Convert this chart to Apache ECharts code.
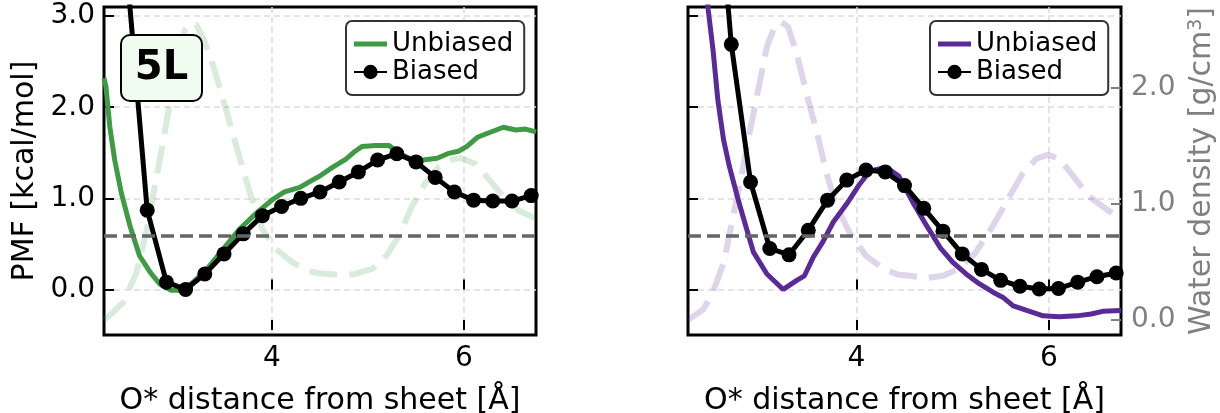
<!DOCTYPE html>
<html>
<head>
<meta charset="utf-8">
<script src="https://cdn.jsdelivr.net/npm/echarts@6/dist/echarts.min.js"></script>
<style>
html,body{margin:0;padding:0;background:#fff;}
#c{width:1220px;height:413px;}
</style>
</head>
<body>
<div id="c"></div>
<script>
// ---------------- data ----------------
const xTickValues = [4, 6];
const pmfTickValues = [0, 1, 2, 3];
const densityTickValues = [0, 1, 2];
const kT = 0.593;

const biasedX = [2.5, 2.7, 2.9, 3.1, 3.3, 3.5, 3.7, 3.9, 4.1, 4.3, 4.5, 4.7, 4.9, 5.1, 5.3, 5.5, 5.7, 5.9, 6.1, 6.3, 6.5, 6.7];
const leftBiasedY = [3.35, 0.87, 0.08, 0.0, 0.17, 0.39, 0.61, 0.81, 0.91, 1.0, 1.07, 1.18, 1.29, 1.42, 1.49, 1.40, 1.23, 1.07, 0.98, 0.97, 0.97, 1.03];
const rightBiasedY = [5.2, 2.69, 1.18, 0.45, 0.38, 0.65, 0.98, 1.20, 1.31, 1.29, 1.14, 0.89, 0.64, 0.39, 0.22, 0.10, 0.035, 0.005, 0.01, 0.08, 0.14, 0.18];

const leftUnbiasedX = [2.25, 2.27, 2.31, 2.36, 2.43, 2.52, 2.62, 2.73, 2.83, 2.95, 3.06, 3.18, 3.32, 3.49, 3.66, 3.84, 4.01, 4.13, 4.29, 4.42, 4.49, 4.63, 4.77, 4.87, 4.94, 5.08, 5.22, 5.31, 5.43, 5.57, 5.72, 5.83, 5.95, 6.03, 6.14, 6.26, 6.41, 6.54, 6.64, 6.75];
const leftUnbiasedY = [2.32, 2.23, 1.79, 1.43, 1.06, 0.70, 0.37, 0.19, 0.06, -0.01, -0.01, 0.08, 0.22, 0.44, 0.66, 0.84, 0.99, 1.07, 1.12, 1.20, 1.24, 1.34, 1.43, 1.52, 1.57, 1.58, 1.58, 1.50, 1.44, 1.42, 1.44, 1.49, 1.52, 1.57, 1.67, 1.72, 1.78, 1.75, 1.76, 1.73];

const rightUnbiasedX = [2.44, 2.46, 2.51, 2.56, 2.62, 2.68, 2.77, 2.86, 2.93, 3.07, 3.24, 3.38, 3.46, 3.55, 3.65, 3.76, 3.90, 4.03, 4.14, 4.31, 4.44, 4.59, 4.73, 4.87, 5.00, 5.14, 5.28, 5.42, 5.52, 5.63, 5.77, 5.94, 6.11, 6.29, 6.44, 6.56, 6.75];
const rightUnbiasedY = [3.3, 3.07, 2.63, 2.08, 1.64, 1.35, 0.99, 0.66, 0.41, 0.17, 0.0, 0.10, 0.15, 0.35, 0.52, 0.74, 0.94, 1.15, 1.30, 1.34, 1.245, 0.95, 0.70, 0.46, 0.30, 0.17, 0.06, -0.03, -0.085, -0.18, -0.23, -0.29, -0.30, -0.29, -0.27, -0.24, -0.23];

const leftDensityX = [2.25, 2.31, 2.45, 2.59, 2.69, 2.78, 2.87, 2.94, 3.01, 3.09, 3.14, 3.21, 3.28, 3.39, 3.52, 3.63, 3.77, 3.90, 4.04, 4.22, 4.39, 4.49, 4.63, 4.84, 5.05, 5.19, 5.32, 5.46, 5.60, 5.74, 5.88, 5.98, 6.12, 6.26, 6.43, 6.57, 6.75];
const leftDensityY = [0.0, 0.04, 0.15, 0.41, 0.75, 1.15, 1.55, 1.89, 2.24, 2.49, 2.54, 2.54, 2.43, 2.18, 1.81, 1.49, 1.09, 0.78, 0.61, 0.49, 0.42, 0.40, 0.39, 0.39, 0.44, 0.55, 0.72, 0.98, 1.18, 1.32, 1.38, 1.39, 1.34, 1.21, 1.04, 0.94, 0.87];

const rightDensityX = [2.25, 2.41, 2.51, 2.62, 2.72, 2.81, 2.89, 3.00, 3.07, 3.15, 3.22, 3.29, 3.38, 3.48, 3.59, 3.69, 3.79, 3.93, 4.10, 4.28, 4.43, 4.55, 4.73, 4.90, 5.07, 5.24, 5.42, 5.59, 5.73, 5.87, 5.99, 6.11, 6.25, 6.42, 6.60, 6.75];
const rightDensityY = [0.0, 0.09, 0.24, 0.49, 0.89, 1.26, 1.61, 2.06, 2.35, 2.52, 2.56, 2.52, 2.29, 1.95, 1.61, 1.26, 0.98, 0.75, 0.55, 0.44, 0.39, 0.38, 0.36, 0.38, 0.44, 0.58, 0.81, 1.06, 1.26, 1.385, 1.42, 1.385, 1.24, 1.06, 0.95, 0.87];

const legendNames = ['Unbiased', 'Biased'];
const panelTag = '5L';
// --------------------------------------

const GREEN = '#3f9a44';
const PURPLE = '#5a2b98';
const FONT = 'DejaVu Sans';
const X_MIN = 2.25, X_MAX = 6.75;
const PMF_MIN = -0.5, PMF_MAX = 3.1;
const D_MIN = -0.13, D_MAX = 2.69;
const LINE_ICON = 'path://M0,0H33V5H0Z';

const zip = (xs, ys) => xs.map((x, i) => [x, ys[i]]);

const gridSplit = {show: true, lineStyle: {color: '#dcdcdc', width: 1.5, type: [6, 4]}};
const tickIn = (vals, color) => ({show: true, inside: true, length: 10, customValues: vals, lineStyle: {color: color || '#000', width: 2}});

function xAxes(gridIndex) {
  return [
    {type: 'value', gridIndex, position: 'bottom', min: X_MIN, max: X_MAX,
     axisLine: {show: false}, axisTick: tickIn(xTickValues),
     axisLabel: {show: true, customValues: xTickValues, margin: 10, fontSize: 28, color: '#000', fontFamily: FONT},
     splitLine: gridSplit,
     name: 'O* distance from sheet [Å]', nameLocation: 'middle', nameGap: 51,
     nameTextStyle: {fontSize: 30, color: '#000', fontFamily: FONT}},
    {type: 'value', gridIndex, position: 'top', min: X_MIN, max: X_MAX,
     axisLine: {show: false}, axisTick: tickIn(xTickValues),
     axisLabel: {show: false}, splitLine: {show: false}}
  ];
}

function legendCfg(left, unbiasedColor) {
  return {orient: 'vertical', left, top: 21, itemWidth: 33, itemHeight: 18, itemGap: 0,
    padding: [9, 11, 9, 7], borderColor: '#333', borderWidth: 2, borderRadius: 6,
    backgroundColor: 'rgba(255,255,255,0.85)', symbolKeepAspect: true,
    textStyle: {fontSize: 26, lineHeight: 28, color: '#000', fontFamily: FONT},
    data: [
      {name: legendNames[0], icon: LINE_ICON, itemStyle: {color: unbiasedColor}},
      {name: legendNames[1]}
    ], selectedMode: false};
}

const kTMark = {silent: true, symbol: ['none', 'none'], label: {show: false},
  lineStyle: {color: '#666', width: 3.5, type: [13, 6]}, data: [{yAxis: kT}]};

const option = {
  animation: false,
  backgroundColor: '#fff',
  textStyle: {fontFamily: FONT},
  grid: [
    {left: 104, top: 7, width: 432, height: 328, outerBoundsMode: 'none', containLabel: false,
     show: true, borderColor: '#000', borderWidth: 3, backgroundColor: 'transparent'},
    {left: 688, top: 7, width: 433, height: 328, outerBoundsMode: 'none', containLabel: false,
     show: true, borderColor: '#000', borderWidth: 3, backgroundColor: 'transparent'}
  ],
  xAxis: [...xAxes(0), ...xAxes(1)],
  yAxis: [
    {type: 'value', gridIndex: 0, position: 'left', min: PMF_MIN, max: PMF_MAX,
     axisLine: {show: false}, axisTick: tickIn(pmfTickValues),
     axisLabel: {show: true, customValues: pmfTickValues, margin: 9, fontSize: 28, color: '#000', fontFamily: FONT, formatter: v => v.toFixed(1)},
     splitLine: gridSplit,
     name: 'PMF [kcal/mol]', nameLocation: 'middle', nameGap: 64, nameRotate: 90,
     nameTextStyle: {fontSize: 30, color: '#000', fontFamily: FONT}},
    {type: 'value', gridIndex: 0, position: 'right', min: D_MIN, max: D_MAX, show: false},
    {type: 'value', gridIndex: 1, position: 'left', min: PMF_MIN, max: PMF_MAX,
     axisLine: {show: false}, axisTick: tickIn(pmfTickValues),
     axisLabel: {show: false}, splitLine: gridSplit},
    {type: 'value', gridIndex: 1, position: 'right', min: D_MIN, max: D_MAX,
     axisLine: {show: false}, axisTick: tickIn(densityTickValues, '#808080'),
     axisLabel: {show: true, customValues: densityTickValues, margin: 10, fontSize: 28, color: '#808080', fontFamily: FONT, formatter: v => v.toFixed(1)},
     splitLine: {show: false},
     name: 'Water density [g/cm{sup|3}]', nameLocation: 'middle', nameGap: 66, nameRotate: 90,
     nameTextStyle: {fontSize: 30, color: '#808080', fontFamily: FONT,
       rich: {sup: {fontSize: 19, color: '#808080', fontFamily: FONT, verticalAlign: 'top'}}}}
  ],
  legend: [legendCfg(346, GREEN), legendCfg(930, PURPLE)],
  graphic: [
    {type: 'rect', z: 100, shape: {x: 121, y: 35, width: 81, height: 66, r: 9},
     style: {fill: '#effcef', stroke: '#000', lineWidth: 2}},
    {type: 'text', z: 101, x: 161.5, y: 69,
     style: {text: panelTag, font: 'bold 40px "DejaVu Sans"', fill: '#000', align: 'center', verticalAlign: 'middle'}}
  ],
  series: [
    {name: 'densityL', type: 'line', xAxisIndex: 0, yAxisIndex: 1, data: zip(leftDensityX, leftDensityY),
     symbol: 'none', z: 1, silent: true,
     lineStyle: {color: GREEN, opacity: 0.2, width: 6, type: [28, 12]}},
    {name: legendNames[0], type: 'line', xAxisIndex: 0, yAxisIndex: 0, data: zip(leftUnbiasedX, leftUnbiasedY),
     symbol: 'none', z: 3, itemStyle: {color: GREEN}, lineStyle: {color: GREEN, width: 5},
     markLine: kTMark},
    {name: legendNames[1], type: 'line', xAxisIndex: 0, yAxisIndex: 0, data: zip(biasedX, leftBiasedY),
     symbol: 'circle', symbolSize: 15, z: 4, itemStyle: {color: '#000'}, lineStyle: {color: '#000', width: 5}},
    {name: 'densityR', type: 'line', xAxisIndex: 2, yAxisIndex: 3, data: zip(rightDensityX, rightDensityY),
     symbol: 'none', z: 1, silent: true,
     lineStyle: {color: PURPLE, opacity: 0.2, width: 6, type: [28, 12]}},
    {name: legendNames[0], type: 'line', xAxisIndex: 2, yAxisIndex: 2, data: zip(rightUnbiasedX, rightUnbiasedY),
     symbol: 'none', z: 3, itemStyle: {color: PURPLE}, lineStyle: {color: PURPLE, width: 5},
     markLine: kTMark},
    {name: legendNames[1], type: 'line', xAxisIndex: 2, yAxisIndex: 2, data: zip(biasedX, rightBiasedY),
     symbol: 'circle', symbolSize: 15, z: 4, itemStyle: {color: '#000'}, lineStyle: {color: '#000', width: 5}}
  ]
};

const chart = echarts.init(document.getElementById('c'), null, {renderer: 'canvas'});
chart.setOption(option);
</script>
</body>
</html>
